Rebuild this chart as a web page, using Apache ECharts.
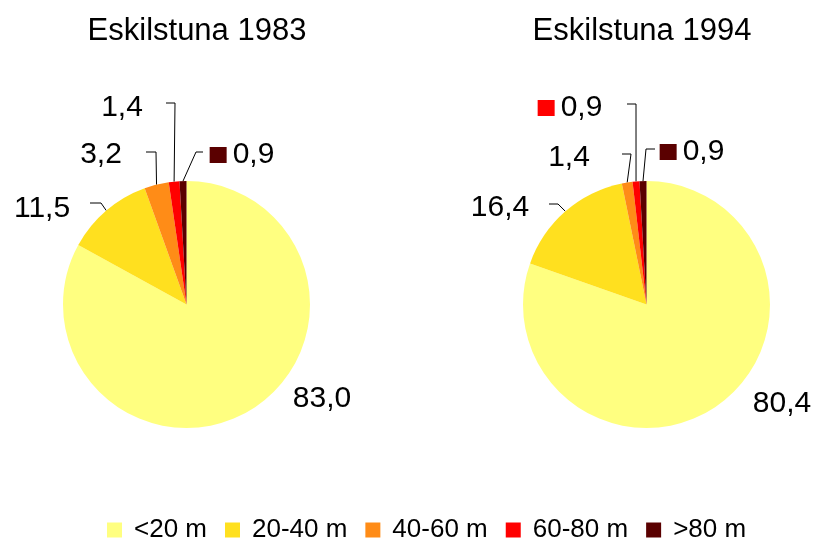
<!DOCTYPE html>
<html><head><meta charset="utf-8">
<script src="https://cdn.jsdelivr.net/npm/echarts@6/dist/echarts.min.js"></script>
<style>html,body{margin:0;padding:0;background:#fff}#c{width:818px;height:541px}</style>
</head><body><div id="c"></div>
<script>
var categories = ['<20 m', '20-40 m', '40-60 m', '60-80 m', '>80 m'];
var colors = ['#FFFF80', '#FFE01F', '#FF8C17', '#FF0000', '#5A0000'];
var titles = ['Eskilstuna 1983', 'Eskilstuna 1994'];
var values1983 = [83.0, 11.5, 3.2, 1.4, 0.9];
var values1994 = [80.4, 16.4, 1.4, 0.9, 0.9];

// label placement (manual, as in the original): label centre, and leader elbow/end points
var layouts = [
  { center: [186.5, 304.5], key: [4],
    pos: [[322, 398], [42, 208], [101, 154], [122, 107], [242, 154]],
    line: [null, [[101, 203], [90, 203]], [[156, 152], [146, 152]], [[175, 103], [166, 103]], [[196, 152], [203, 152]]] },
  { center: [646.5, 304.5], key: [3, 4],
    pos: [[782, 403], [500, 207], [569, 157], [570, 107], [692, 151]],
    line: [null, [[558, 204], [549, 204]], [[631, 154], [622, 154]], [[636, 104], [627, 104]], [[646, 149], [655, 149]]] }
];

function fmt(v){ return v.toFixed(1).replace('.', ','); }
var font = 'Liberation Sans, Arial, sans-serif';
var rich = {v: {fontFamily: font, fontSize: 30, color: '#000'}};
colors.forEach(function(c, i){ rich['k' + i] = {width: 17, height: 16, backgroundColor: c}; rich['s' + i] = {width: 6}; });

function pieSeries(vals, li){
  var L = layouts[li];
  return {
    type: 'pie', radius: 123.5, center: L.center, startAngle: 90, clockwise: true,
    animation: false,
    data: vals.map(function(v, i){ return {name: categories[i], value: v, itemStyle: {color: colors[i]}}; }),
    itemStyle: {borderWidth: 0},
    label: {show: true, position: 'outside', overflow: 'none', edgeDistance: 0,
      formatter: function(p){
        var t = '{v|' + fmt(p.value) + '}';
        if (L.key.indexOf(p.dataIndex) >= 0) t = '{k' + p.dataIndex + '|}{s' + p.dataIndex + '|}' + t;
        return t;
      },
      rich: rich, fontFamily: font, fontSize: 30, color: '#000'},
    labelLine: {show: true, length: 10, length2: 10, lineStyle: {color: '#000', width: 1}},
    labelLayout: function(params){
      var i = params.dataIndex;
      var p = L.pos[i];
      var o = {x: p[0], y: p[1] + 1, align: 'center', verticalAlign: 'middle', width: 120};
      var ln = L.line[i];
      if (ln && params.labelLinePoints) {
        o.labelLinePoints = [params.labelLinePoints[0], ln[0], ln[1]];
      } else {
        o.labelLinePoints = [[0,0],[0,0],[0,0]];
      }
      return o;
    },
    emphasis: {disabled: true}
  };
}
var chart = echarts.init(document.getElementById('c'));
chart.setOption({
  backgroundColor: '#fff',
  title: [
    {text: titles[0], left: 192, top: 11, textAlign: 'center', textStyle: {fontFamily: font, fontSize: 31, fontWeight: 'normal', color: '#000'}},
    {text: titles[1], left: 637, top: 11, textAlign: 'center', textStyle: {fontFamily: font, fontSize: 31, fontWeight: 'normal', color: '#000'}}
  ],
  legend: {top: 512, left: 102, data: categories, itemWidth: 15, itemHeight: 15, itemGap: 18, icon: 'rect',
    textStyle: {fontFamily: font, fontSize: 26, color: '#000', padding: [0, 0, 0, 7]}},
  series: [pieSeries(values1983, 0), pieSeries(values1994, 1)]
});
</script></body></html>
